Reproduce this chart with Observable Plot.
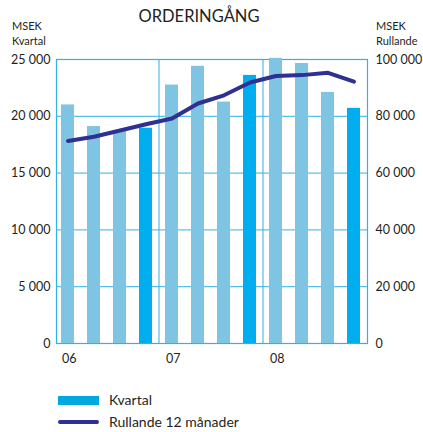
<!DOCTYPE html>
<html><head><meta charset="utf-8">
<script src="https://cdn.jsdelivr.net/npm/d3@7"></script>
<script src="https://cdn.jsdelivr.net/npm/@observablehq/plot@0.6"></script>
<style>
body{margin:0;background:#fff;}
#wrap{position:relative;width:423px;height:432px;font-family:Lato,"Open Sans",sans-serif;color:#231f20;}
.abs{position:absolute;white-space:nowrap;}
</style></head>
<body><div id="wrap"></div>
<script>
const quarters = ["06 Q1","06 Q2","06 Q3","06 Q4","07 Q1","07 Q2","07 Q3","07 Q4","08 Q1","08 Q2","08 Q3","08 Q4"];
const kvartal = [21000,19100,18700,18950,22750,24400,21250,23600,25100,24650,22100,20700];
const rullande = [71300,72800,75000,77200,79200,84500,87400,91900,94200,94500,95300,92200];
const yearLabels = ["06","07","08"];
const yearStarts = ["06 Q1","07 Q1","08 Q1"];
const leftTicks = [0,5000,10000,15000,20000,25000];
const rightTicks = [0,20000,40000,60000,80000,100000];

const light = "#7fc4e2", dark = "#00aeef", grid = "#2eb2e8", navy = "#2e3192";
const data = quarters.map((q,i)=>({q, v:kvartal[i], r:rullande[i], q4:q.endsWith("Q4")}));
const fmt = d => String(d).replace(/\B(?=(\d{3})+(?!\d))/g, " ");

const chart = Plot.plot({
  width:423, height:432,
  marginTop:59, marginBottom:89, marginLeft:56, marginRight:56,
  style:{fontFamily:"Lato, 'Open Sans', sans-serif", fontSize:"12.5px", color:"#231f20", background:"transparent"},
  x:{type:"band", domain:quarters, paddingInner:0.5, paddingOuter:0.23, align:0.42, axis:null},
  y:{domain:[0,25000], axis:null},
  marks:[
    Plot.ruleY(leftTicks, {stroke:grid, strokeWidth:1}),
    Plot.ruleX(yearStarts.slice(1), {stroke:grid, strokeWidth:1, dx:-13}),
    Plot.frame({stroke:grid, strokeWidth:1.2}),
    Plot.barY(data.filter(d=>!d.q4), {x:"q", y:"v", fill:light}),
    Plot.barY(data.filter(d=>d.q4), {x:"q", y:"v", fill:dark}),
    Plot.line(data, {x:"q", y:d=>d.r/4, stroke:navy, strokeWidth:4, strokeLinecap:"round", strokeLinejoin:"round"}),
    Plot.axisY(leftTicks, {anchor:"left", label:null, tickSize:0, tickPadding:6, tickFormat:fmt, fill:"#231f20"}),
    Plot.axisY(rightTicks.map(d=>d/4), {anchor:"right", label:null, tickSize:0, tickPadding:8, tickFormat:d=>fmt(d*4), fill:"#231f20"}),
    Plot.text(yearStarts, {x:d=>d, text:(d,i)=>yearLabels[i], frameAnchor:"bottom", textAnchor:"start", dx:-6, dy:19, fill:"#231f20"})
  ]
});
const wrap = document.getElementById("wrap");
wrap.appendChild(chart);
chart.style.position="absolute"; chart.style.left="0"; chart.style.top="0";

function addText(txt, css){ const d=document.createElement("div"); d.className="abs"; d.innerHTML=txt; Object.assign(d.style, css); wrap.appendChild(d); return d; }
addText("ORDERINGÅNG", {left:"0", width:"398px", textAlign:"center", top:"6px", fontSize:"16.5px"});
addText("MSEK<br>Kvartal", {left:"12px", top:"19px", fontSize:"11px", lineHeight:"14.5px"});
addText("MSEK<br>Rullande", {left:"376px", top:"19px", fontSize:"11px", lineHeight:"14.5px"});
// legend
addText("", {left:"58px", top:"396px", width:"41px", height:"9px", background:"#00a8e0"});
addText("Kvartal", {left:"109px", top:"391px", fontSize:"14px"});
addText("", {left:"58px", top:"420px", width:"41px", height:"4px", background:navy, borderRadius:"2px"});
addText("Rullande 12 månader", {left:"109px", top:"413px", fontSize:"14px"});
</script></body></html>
